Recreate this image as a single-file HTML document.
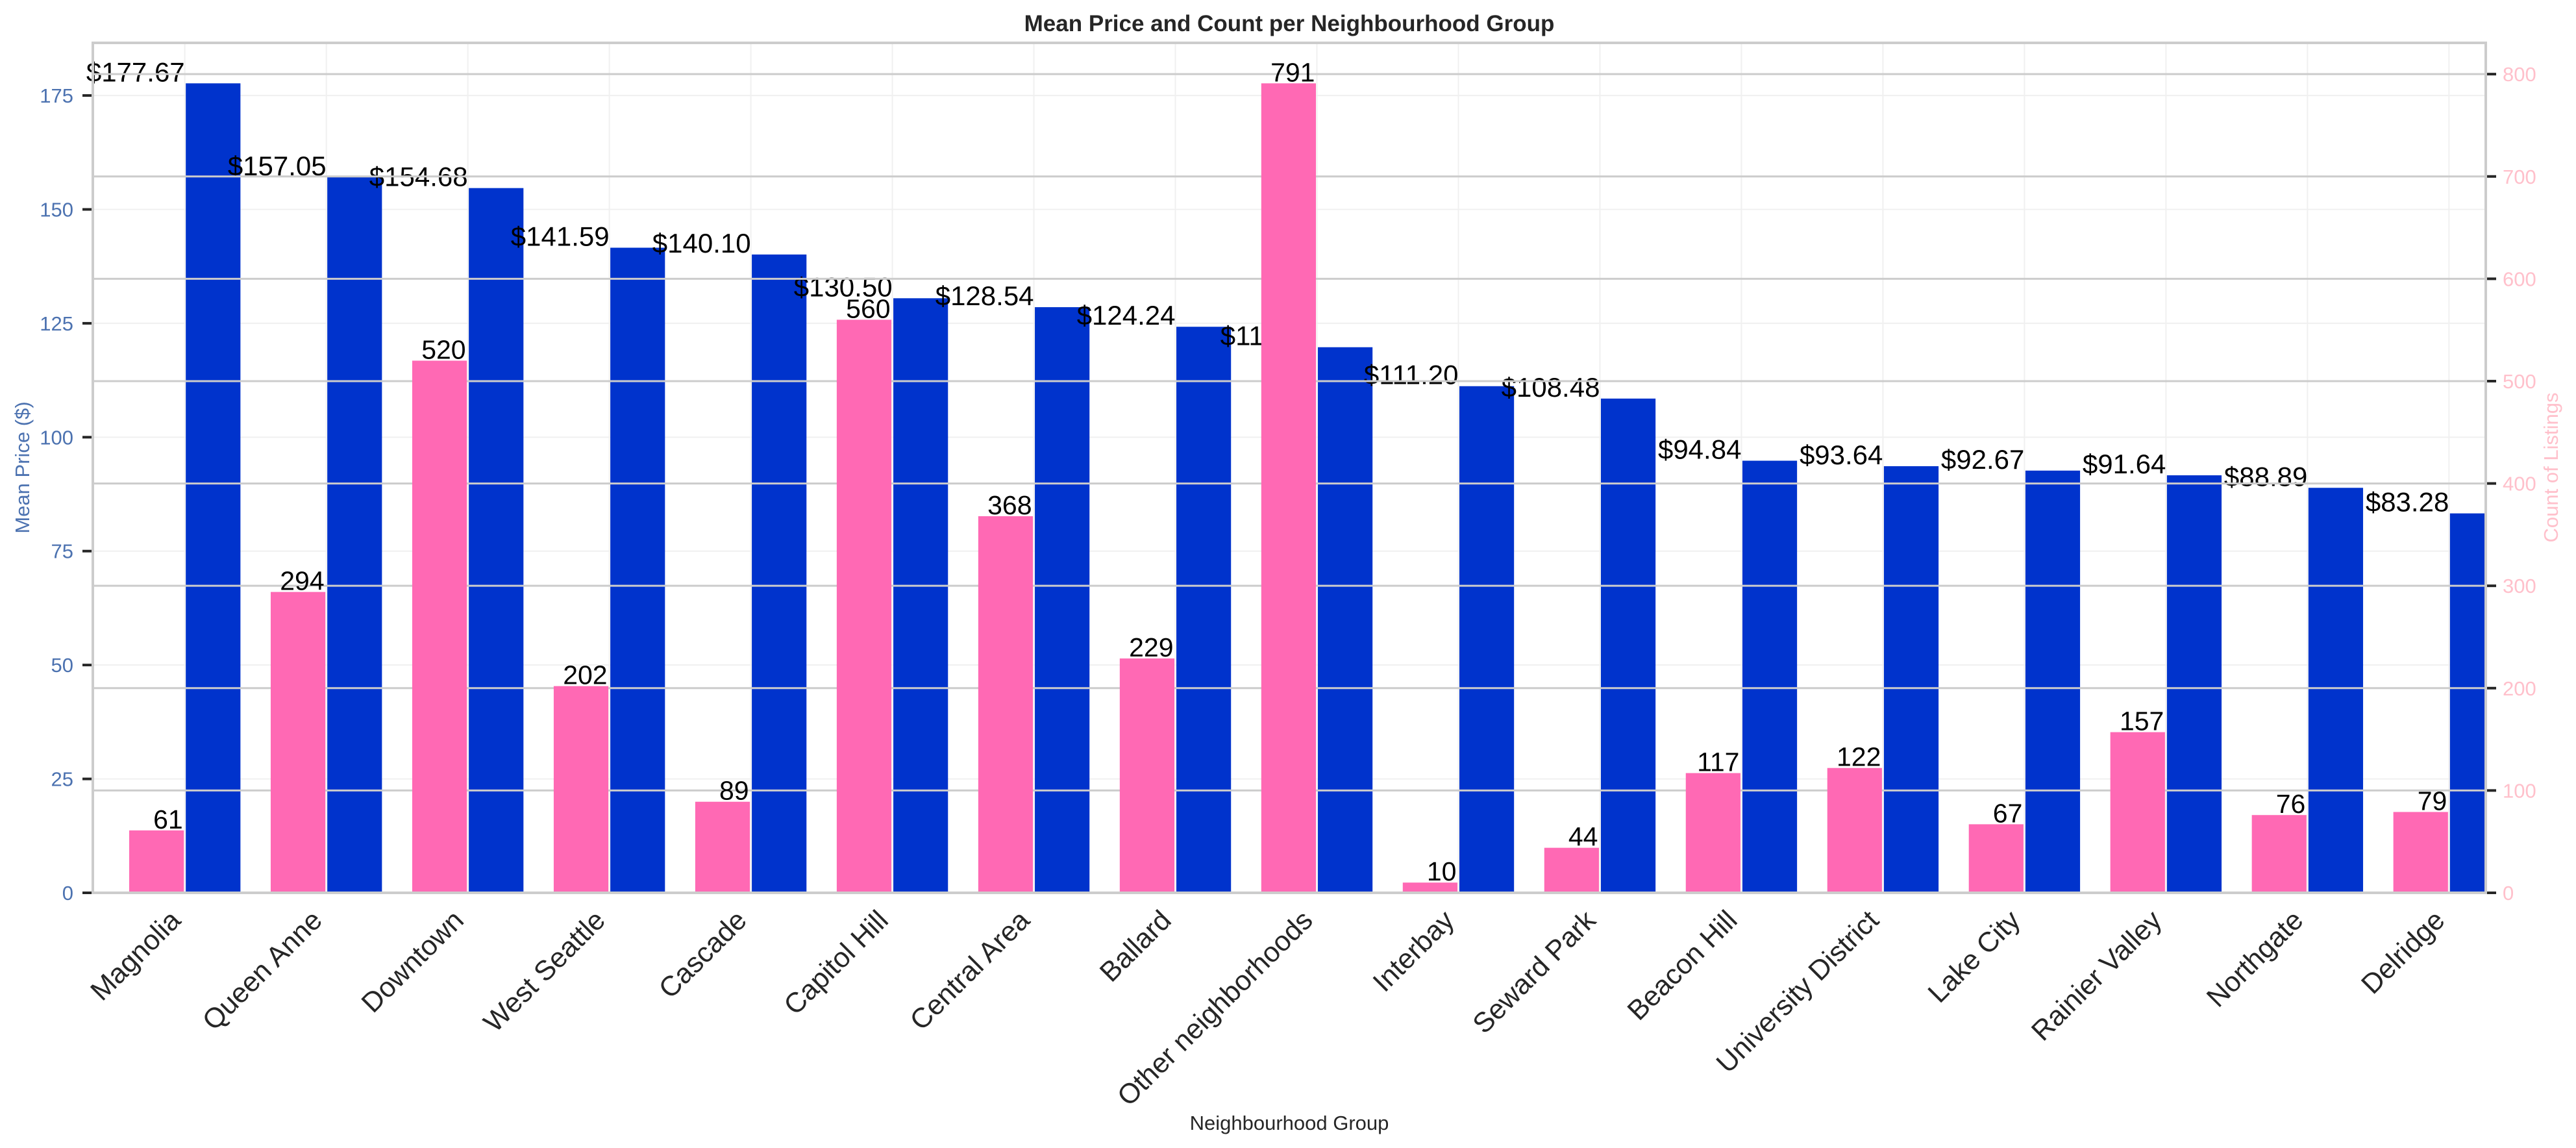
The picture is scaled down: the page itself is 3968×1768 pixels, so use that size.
<!DOCTYPE html>
<html><head><meta charset="utf-8"><style>
html,body{margin:0;padding:0;background:#fff;}
svg{display:block;font-family:"Liberation Sans",Arial,sans-serif;}
</style></head><body>
<svg id="chart" xmlns="http://www.w3.org/2000/svg" width="3968" height="1768" viewBox="0 0 3968 1768">
<rect x="0" y="0" width="3968" height="1768" fill="#fff"/>
<text x="1986" y="48" text-anchor="middle" font-size="35" font-weight="bold" fill="#262626">Mean Price and Count per Neighbourhood Group</text>
<text transform="translate(45,720) rotate(-90)" text-anchor="middle" font-size="31" fill="#4c72b0">Mean Price ($)</text>
<text transform="translate(3940,720) rotate(-90)" text-anchor="middle" font-size="31" fill="#ffc0cb">Count of Listings</text>
<text x="1986" y="1740" text-anchor="middle" font-size="31" fill="#262626">Neighbourhood Group</text>
<g id="g-faint"></g>
<g id="g-blue"></g>
<g id="g-plabels"></g>
<g id="g-grid"></g>
<g id="g-pink"></g>
<g id="g-clabels"></g>
<g id="g-axes"></g>
</svg>
<script>
const categories = ["Magnolia","Queen Anne","Downtown","West Seattle","Cascade","Capitol Hill","Central Area","Ballard","Other neighborhoods","Interbay","Seward Park","Beacon Hill","University District","Lake City","Rainier Valley","Northgate","Delridge"];
const meanPrice = [177.67,157.05,154.68,141.59,140.10,130.50,128.54,124.24,119.75,111.20,108.48,94.84,93.64,92.67,91.64,88.89,83.28];
const listingCount = [61,294,520,202,89,560,368,229,791,10,44,117,122,67,157,76,79];
const priceTicks = [0,25,50,75,100,125,150,175];
const countTicks = [0,100,200,300,400,500,600,700,800];

const NS = "http://www.w3.org/2000/svg";
const L = 143, R = 3829, T = 66, B = 1375;
const xMin = -0.65, xMax = 16.26;
const priceMax = Math.max(...meanPrice) * 1.05;
const countMax = Math.max(...listingCount) * 1.05;
function xs(v){ return L + (v - xMin) / (xMax - xMin) * (R - L); }
function yp(v){ return B - v / priceMax * (B - T); }
function yc(v){ return B - v / countMax * (B - T); }
const unit = xs(1) - xs(0);
function mk(tag, attrs, parent){
  const e = document.createElementNS(NS, tag);
  for (const k in attrs) e.setAttribute(k, attrs[k]);
  document.getElementById(parent).appendChild(e);
  return e;
}
const clip = mk('clipPath', {id:'plotclip'}, 'chart');
const cr = document.createElementNS(NS,'rect');
cr.setAttribute('x',L); cr.setAttribute('y',T); cr.setAttribute('width',R-L); cr.setAttribute('height',B-T);
clip.appendChild(cr);
['g-blue','g-pink'].forEach(id=>document.getElementById(id).setAttribute('clip-path','url(#plotclip)'));

priceTicks.forEach(t=>{
  const l = mk('line',{x1:L,x2:R,y1:yp(t),y2:yp(t),stroke:'#f0f0f0','stroke-width':2},'g-faint');
  
  
});
categories.forEach((c,i)=>{
  const l = mk('line',{x1:xs(i),x2:xs(i),y1:T,y2:B,stroke:'#f0f0f0','stroke-width':2},'g-faint');
  
  
});

meanPrice.forEach((v,i)=>{
  const r = mk('rect',{x:xs(i)+1.5,y:yp(v),width:unit*0.4-3,height:B-yp(v),fill:'#0033cc'},'g-blue');
  
  
  const t = mk('text',{x:xs(i),y:yp(v)-3,'text-anchor':'end','font-size':42,fill:'#000'},'g-plabels');
  t.textContent = '$' + v.toFixed(2);
  
  
});

countTicks.forEach(t=>{
  if (t===0) return;
  const l = mk('line',{x1:L,x2:R,y1:yc(t),y2:yc(t),stroke:'#cccccc','stroke-width':3},'g-grid');
  
  
});

listingCount.forEach((v,i)=>{
  const r = mk('rect',{x:xs(i-0.4)+1.5,y:yc(v),width:unit*0.4-3,height:B-yc(v),fill:'#ff69b4'},'g-pink');
  
  
  const t = mk('text',{x:xs(i)-3,y:yc(v)-3,'text-anchor':'end','font-size':41,fill:'#000'},'g-clabels');
  t.textContent = String(v);
  
  
});

const sp = mk('rect',{x:L,y:T,width:R-L,height:B-T,fill:'none',stroke:'#cccccc','stroke-width':4},'g-axes');



priceTicks.forEach(t=>{
  const k = mk('line',{x1:L-16,x2:L-2,y1:yp(t),y2:yp(t),stroke:'#262626','stroke-width':4},'g-axes');
  
  
  const tx = mk('text',{x:L-30,y:yp(t)+11,'text-anchor':'end','font-size':31,fill:'#4c72b0'},'g-axes');
  tx.textContent = String(t);
  
  
});
countTicks.forEach(t=>{
  const k = mk('line',{x1:R+2,x2:R+16,y1:yc(t),y2:yc(t),stroke:'#262626','stroke-width':4},'g-axes');
  
  
  const tx = mk('text',{x:R+26,y:yc(t)+11,'text-anchor':'start','font-size':31,fill:'#ffc0cb'},'g-axes');
  tx.textContent = String(t);
  
  
});
categories.forEach((c,i)=>{
  const tx = mk('text',{transform:'translate('+(xs(i)-4)+',1420) rotate(-45)','text-anchor':'end','font-size':43,fill:'#262626'},'g-axes');
  tx.textContent = c;
  
  
});
</script>
</body></html>
